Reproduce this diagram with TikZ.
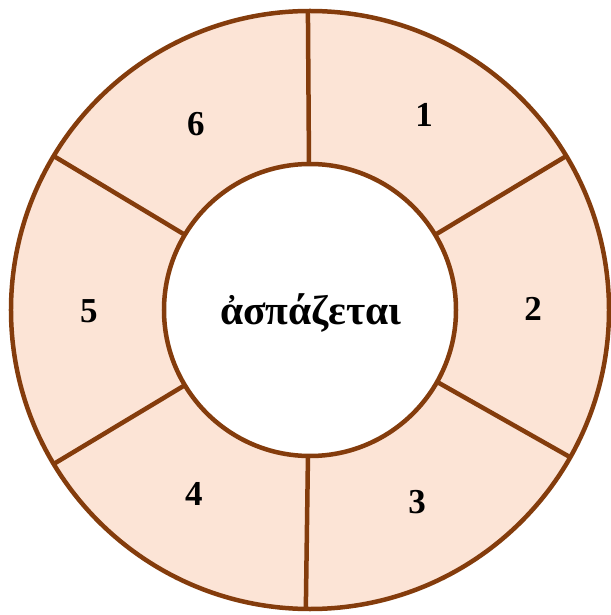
\documentclass[tikz,border=0pt]{standalone}
\usepackage{fontspec}
\setmainfont{Liberation Serif}
\definecolor{ringfill}{HTML}{FCE4D6}
\definecolor{ringline}{HTML}{843C0C}
\tikzset{
  ringedge/.style={draw=ringline, line width=4.5pt},
  numlabel/.style={font=\fontsize{35}{40}\selectfont\bfseries, text=black, inner sep=0pt},
  centerlabel/.style={font=\fontsize{41.5}{46}\selectfont\bfseries, text=black, inner sep=0pt}
}
\begin{document}
\begin{tikzpicture}[x=1pt,y=1pt]
\useasboundingbox (-310,-305) rectangle (300,310);
\coordinate (c) at (0,0);
\fill[ringfill] (c) circle (299);
\draw[ringedge] (c) circle (299);
\foreach \a/\n in {90.4/a1,31/a2,-29.5/a3,269.2/a4,211/a5,149/a6}{
  \coordinate (i\n) at (\a:146);
  \coordinate (o\n) at (\a:299);
  \draw[ringedge] (i\n) -- (o\n);
}
\filldraw[fill=white, ringedge] (c) circle (146);
\node[centerlabel] (w) at (1,-3) {ἀσπάζεται};
\node[numlabel] (n1) at (114,195) {1};
\node[numlabel] (n2) at (223,1) {2};
\node[numlabel] (n3) at (107,-192) {3};
\node[numlabel] (n4) at (-116,-184) {4};
\node[numlabel] (n5) at (-221,-1) {5};
\node[numlabel] (n6) at (-114,186) {6};
\end{tikzpicture}
\end{document}
